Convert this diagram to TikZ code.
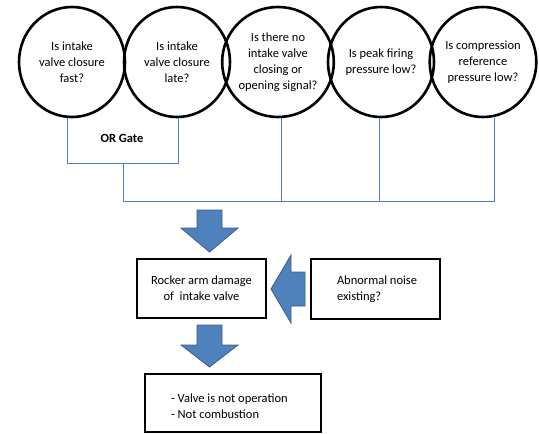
\documentclass[tikz,border=0pt]{standalone}
\usepackage{fontspec}
\setmainfont{Carlito}
\usetikzlibrary{shapes.geometric}
\definecolor{wireblue}{RGB}{79,129,189}
\definecolor{arrowfill}{RGB}{79,129,189}
\definecolor{arrowline}{RGB}{56,93,138}
\tikzset{
  qcircle/.style={ellipse, draw=black, line width=2.6pt, minimum width=106pt, minimum height=110pt, inner sep=0pt, align=center, font=\fontsize{12.5}{16}\selectfont},
  qbox/.style={rectangle, draw=black, line width=2.4pt, inner sep=0pt},
  txt/.style={inner sep=0pt, font=\fontsize{12.5}{16}\selectfont},
  wire/.style={draw=wireblue, line width=0.9pt},
  blockarrow/.style={fill=arrowfill, draw=arrowline, line width=0.8pt, line join=miter}
}
\begin{document}
\begin{tikzpicture}[x=1pt,y=-1pt]
\useasboundingbox (0,0) rectangle (539,434);
% question circles
\node[qcircle] (c1) at (72,62) {Is intake\\valve closure\\fast?};
\node[qcircle] (c2) at (177,62) {Is intake\\valve closure\\late?};
\node[qcircle] (c3) at (278,62) {Is there no\\intake valve\\closing or\\opening signal?};
\node[qcircle] (c4) at (381,62) {Is peak firing\\pressure low?};
\node[qcircle] (c5) at (483,62) {Is compression\\reference\\pressure low?};
% OR gate connectors
\coordinate (g1) at (67,163);
\coordinate (g2) at (178,163);
\coordinate (gm) at (123,163);
\coordinate (b1) at (123,201);
\coordinate (b5) at (494,201);
\draw[wire] ([xshift=-5pt]c1.south) -- (g1) -- (g2) -- ([xshift=1pt]c2.south);
\node[txt, font=\fontsize{12.5}{16}\selectfont\bfseries] (orgate) at (122,138) {OR Gate};
\draw[wire] (gm) -- (b1) -- (b5) -- ([xshift=11pt]c5.south);
\draw[wire] ([xshift=3pt]c3.south) -- ([xshift=3pt]c3.south |- b1);
\draw[wire] ([xshift=-2pt]c4.south) -- ([xshift=-2pt]c4.south |- b1);
% block arrows
\draw[blockarrow] (197,210) -- (222,210) -- (222,228) -- (238,228) -- (209.5,252) -- (181,228) -- (197,228) -- cycle;
\draw[blockarrow] (197,325) -- (222,325) -- (222,345) -- (238,345) -- (209.5,367) -- (181,345) -- (197,345) -- cycle;
\draw[blockarrow] (305,272) -- (305,306) -- (291,306) -- (291,323) -- (271,289) -- (291,255) -- (291,272) -- cycle;
% boxes
\node[qbox, minimum width=129pt, minimum height=59pt, align=center, font=\fontsize{12.5}{16}\selectfont] (rocker) at (201.5,288.5) {Rocker arm damage\\of\ \ intake valve};
\node[qbox, minimum width=129pt, minimum height=60pt] (noise) at (375.5,289) {};
\node[txt, anchor=west, align=left] (noisetxt) at ([xshift=27pt]noise.west) {Abnormal noise\\existing?};
\node[qbox, minimum width=176pt, minimum height=58pt] (result) at (233,403) {};
\node[txt, anchor=west, align=left] (resulttxt) at ([xshift=27pt,yshift=-3pt]result.west) {- Valve is not operation\\- Not combustion};
\end{tikzpicture}
\end{document}
